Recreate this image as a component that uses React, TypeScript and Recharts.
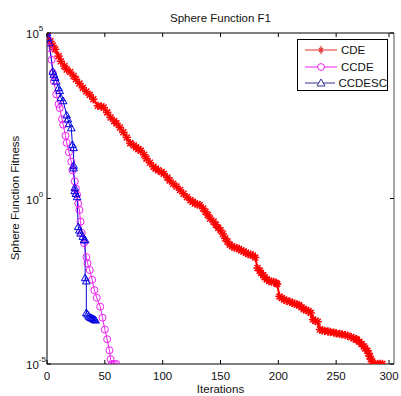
import { LineChart, Line, XAxis, YAxis } from 'recharts'

// CDE (red stars)
const cdeIter = [
  0, 3, 5, 7, 10, 12, 15, 17, 20, 23, 25, 28, 31, 34, 37, 40, 44,
  47, 49, 52, 55, 58, 60, 63, 66, 69, 72, 75, 77, 79, 81, 84, 86, 89, 92, 94, 96, 99,
  101, 104, 106, 109, 112, 115, 118, 121, 124, 126, 128, 130, 132, 135, 137, 139, 141, 144, 146,
  148, 150, 152, 154, 156, 158, 160, 162, 164, 166, 168, 170, 172, 174, 176, 178, 180, 182,
  184, 185, 187, 188, 190, 192, 194, 196, 198, 199, 201, 203, 205, 207, 210, 212, 214, 216, 218,
  220, 222, 224, 226, 228, 230, 232, 234, 236, 238, 240, 243, 245, 248, 250, 253, 255, 258,
  260, 263, 265, 267, 268, 270, 272, 274, 275, 277, 278, 279, 280, 281, 282, 284, 286, 288, 290,
]
const cdeFit = [
  1e5, 5.6e4, 4.2e4, 3.2e4, 2.0e4, 1.4e4, 1.0e4, 7.9e3, 6.6e3, 5.0e3, 4.0e3, 3.0e3, 2.2e3, 1.7e3, 1.35e3, 1.0e3, 630,
  600, 560, 400, 280, 220, 186, 140, 100, 70, 47, 40, 35, 31, 28, 21, 16, 12, 9.1, 8.0, 7.1, 6.3,
  5.6, 4.3, 3.5, 2.8, 2.3, 1.8, 1.4, 1.1, 0.89, 0.79, 0.71, 0.67, 0.63, 0.5, 0.4, 0.32, 0.25, 0.2, 0.16,
  0.13, 0.11, 0.085, 0.063, 0.05, 0.04, 0.036, 0.033, 0.032, 0.03, 0.027, 0.025, 0.023, 0.021, 0.02, 0.019, 0.0166, 0.0079,
  0.0066, 0.0056, 0.0048, 0.0042, 0.0036, 0.0032, 0.0031, 0.003, 0.0028, 0.0026, 0.0011, 9.8e-4, 8.9e-4, 8.2e-4, 7.6e-4, 7.1e-4, 6.6e-4, 6.3e-4, 6.0e-4,
  5.2e-4, 4.5e-4, 4.3e-4, 4.0e-4, 3.5e-4, 2.2e-4, 2.0e-4, 1.9e-4, 1.1e-4, 1.05e-4, 1.0e-4, 9.6e-5, 9.3e-5, 8.9e-5, 8.5e-5, 8.1e-5, 7.9e-5, 7.5e-5,
  7.1e-5, 6.5e-5, 6.0e-5, 5.6e-5, 5.4e-5, 4.7e-5, 4.0e-5, 3.4e-5, 3.0e-5, 2.5e-5, 2.1e-5, 1.7e-5, 1.4e-5, 1.2e-5, 1e-5, 1e-5, 1e-5, 1e-5, 1e-5,
]

// CCDE (magenta circles)
const ccdeIter = [
  0, 1, 2, 4, 5, 6, 8, 10, 11, 13,
  14, 16, 17, 19, 21, 22, 24, 25, 26, 27,
  28, 29, 30, 32, 34, 35, 37, 39, 41, 43,
  46, 48, 50, 52, 54, 55, 56, 58, 60,
]
const ccdeFit = [
  1e5, 6.3e4, 3.5e4, 1.55e4, 6.3e3, 3.5e3, 1.4e3, 710, 540, 250,
  170, 79, 48, 25, 13, 7.1, 3.3, 2.0, 1.3, 0.71,
  0.45, 0.2, 0.091, 0.045, 0.017, 0.011, 0.0069, 0.0035, 0.0017, 1.0e-3,
  5.4e-4, 2.5e-4, 1.1e-4, 5.6e-5, 2.6e-5, 1.4e-5, 1e-5, 1e-5, 1e-5,
]

// CCDESC (blue triangles)
const ccdescIter = [
  0, 1, 2, 5, 6, 7, 8, 10, 11, 12,
  14, 17, 18, 19, 21, 22, 23, 23, 23, 24,
  24, 25, 26, 27, 28, 29, 31, 32, 33, 33,
  34, 34, 35, 36, 37, 38, 39, 40, 41, 42,
]
const ccdescFit = [
  1e5, 7.1e4, 5.0e4, 6.9e3, 5.6e3, 4.5e3, 3.5e3, 2.2e3, 1.8e3, 1.1e3,
  890, 330, 250, 180, 135, 42, 34, 10, 8.3, 2.1,
  1.7, 1.4, 1.12, 0.14, 0.11, 0.089, 0.071, 0.056, 0.056, 0.004,
  0.0032, 3.5e-4, 3.2e-4, 2.8e-4, 2.6e-4, 2.5e-4, 2.4e-4, 2.3e-4, 2.2e-4, 2.1e-4,
]

const xTicks = [0, 50, 100, 150, 200, 250, 300]
const yTicks = [1e-5, 1, 1e5]

const toPoints = (xs: number[], ys: number[]) => xs.map((x, i) => ({ it: x, fit: ys[i] }))
const cdeData = toPoints(cdeIter, cdeFit)
const ccdeData = toPoints(ccdeIter, ccdeFit)
const ccdescData = toPoints(ccdescIter, ccdescFit)

const font = "'Liberation Sans', Arial, sans-serif"
const RED = '#ff0000'
const MAGENTA = '#f020f0'
const BLUE = '#0000e0'

const StarDot = (p: any) => {
  const { cx, cy, index } = p
  if (cx == null || cy == null) return <g key={index} />
  const r = 4.2
  const d = 3
  return (
    <g key={index} stroke={RED} strokeWidth={1.5}>
      <line x1={cx - r} y1={cy} x2={cx + r} y2={cy} />
      <line x1={cx} y1={cy - r} x2={cx} y2={cy + r} />
      <line x1={cx - d} y1={cy - d} x2={cx + d} y2={cy + d} />
      <line x1={cx - d} y1={cy + d} x2={cx + d} y2={cy - d} />
    </g>
  )
}

const CircleDot = (p: any) => {
  const { cx, cy, index } = p
  if (cx == null || cy == null) return <g key={index} />
  return <circle key={index} cx={cx} cy={cy} r={3.5} fill='none' stroke={MAGENTA} strokeWidth={1} />
}

const TriDot = (p: any) => {
  const { cx, cy, index } = p
  if (cx == null || cy == null) return <g key={index} />
  const s = 3.8
  return (
    <polygon
      key={index}
      points={`${cx},${cy - s} ${cx - s},${cy + s * 0.75} ${cx + s},${cy + s * 0.75}`}
      fill='none'
      stroke={BLUE}
      strokeWidth={1}
    />
  )
}

const BottomTick = ({ x, y, payload }: any) => (
  <g>
    <line x1={x} y1={y} x2={x} y2={y - 4} stroke='#000' />
    <text x={x} y={y + 16} textAnchor='middle' fontSize={11.5} fill='#111' fontFamily={font}>
      {payload.value}
    </text>
  </g>
)

const TopTick = ({ x, y }: any) => <line x1={x} y1={y} x2={x} y2={y + 4} stroke='#000' />

const LeftTick = ({ x, y, payload }: any) => {
  const exp = Math.round(Math.log10(payload.value))
  return (
    <g>
      <line x1={x} y1={y} x2={x + 4} y2={y} stroke='#000' />
      <text x={x - 21} y={y + 5} fontSize={11.5} fill='#111' fontFamily={font}>
        10
        <tspan fontSize={8} dy={-7}>
          {exp}
        </tspan>
      </text>
    </g>
  )
}

const RightTick = ({ x, y }: any) => <line x1={x} y1={y} x2={x - 4} y2={y} stroke='#000' />

const legendItems = [
  { name: 'CDE', color: '#e03030', marker: 'star' },
  { name: 'CCDE', color: MAGENTA, marker: 'circle' },
  { name: 'CCDESC', color: '#303090', marker: 'tri' },
]

function LegendIcon({ color, marker }: { color: string; marker: string }) {
  return (
    <svg width={34} height={10} style={{ display: 'block' }}>
      <line x1={1} y1={5} x2={33} y2={5} stroke={color} strokeWidth={1} />
      {marker === 'star' && (
        <g stroke={color} strokeWidth={1.2}>
          <line x1={17} y1={1} x2={17} y2={9} />
          <line x1={15} y1={3} x2={19} y2={7} />
          <line x1={15} y1={7} x2={19} y2={3} />
        </g>
      )}
      {marker === 'circle' && <circle cx={17} cy={5} r={3.4} fill='#fff' stroke={color} />}
      {marker === 'tri' && <polygon points='17,1 13,8 21,8' fill='#fff' stroke={color} />}
    </svg>
  )
}

const textStyle = { position: 'absolute', fontSize: 11.5, lineHeight: '14px', color: '#111', whiteSpace: 'nowrap' } as const

export default function App() {
  return (
    <div style={{ position: 'absolute', left: 0, top: 0, width: 401, height: 396, background: '#fff', fontFamily: font, overflow: 'hidden' }}>
      <LineChart width={401} height={396} margin={{ top: 32, right: 6, bottom: 0, left: 7 }}>
        <XAxis
          dataKey='it'
          type='number'
          domain={[0, 300]}
          ticks={xTicks}
          allowDataOverflow
          height={32}
          axisLine={{ stroke: '#000' }}
          tickLine={false}
          tickSize={0}
          tickMargin={0}
          tick={<BottomTick />}
        />
        <XAxis
          xAxisId='top'
          orientation='top'
          dataKey='it'
          type='number'
          domain={[0, 300]}
          ticks={xTicks}
          allowDataOverflow
          height={1}
          axisLine={{ stroke: '#000' }}
          tickLine={false}
          tickSize={0}
          tickMargin={0}
          tick={<TopTick />}
        />
        <YAxis
          type='number'
          scale='log'
          domain={[1e-5, 1e5]}
          ticks={yTicks}
          allowDataOverflow
          width={40}
          axisLine={{ stroke: '#000' }}
          tickLine={false}
          tickSize={0}
          tickMargin={0}
          tick={<LeftTick />}
        />
        <YAxis
          yAxisId='right'
          orientation='right'
          type='number'
          scale='log'
          domain={[1e-5, 1e5]}
          ticks={yTicks}
          allowDataOverflow
          width={1}
          axisLine={{ stroke: '#555' }}
          tickLine={false}
          tickSize={0}
          tickMargin={0}
          tick={<RightTick />}
        />
        <Line
          data={cdeData}
          dataKey='fit'
          type='linear'
          stroke={RED}
          strokeWidth={2}
          dot={StarDot}
          isAnimationActive={false}
        />
        <Line
          data={ccdeData}
          dataKey='fit'
          type='linear'
          stroke={MAGENTA}
          strokeWidth={1}
          dot={CircleDot}
          isAnimationActive={false}
        />
        <Line
          data={ccdescData}
          dataKey='fit'
          type='linear'
          stroke={BLUE}
          strokeWidth={1}
          dot={TriDot}
          isAnimationActive={false}
        />
      </LineChart>

      <div style={{ ...textStyle, left: 47, width: 347, top: 11, textAlign: 'center' }}>Sphere Function F1</div>
      <div style={{ ...textStyle, left: 15, top: 198, transform: 'translate(-50%, -50%) rotate(-90deg)' }}>
        Sphere Function Fitness
      </div>
      <div style={{ ...textStyle, left: 47, width: 347, top: 382, textAlign: 'center' }}>Iterations</div>

      <div
        style={{
          position: 'absolute',
          left: 297,
          top: 39,
          width: 91,
          height: 52,
          border: '1px solid #000',
          background: '#fff',
          paddingTop: 2,
          boxSizing: 'border-box',
        }}
      >
        {legendItems.map((item) => (
          <div key={item.name} style={{ display: 'flex', alignItems: 'center', height: 16.5, paddingLeft: 6 }}>
            <LegendIcon color={item.color} marker={item.marker} />
            <span style={{ fontSize: 11.5, marginLeft: 3, color: '#111' }}>{item.name}</span>
          </div>
        ))}
      </div>
    </div>
  )
}
